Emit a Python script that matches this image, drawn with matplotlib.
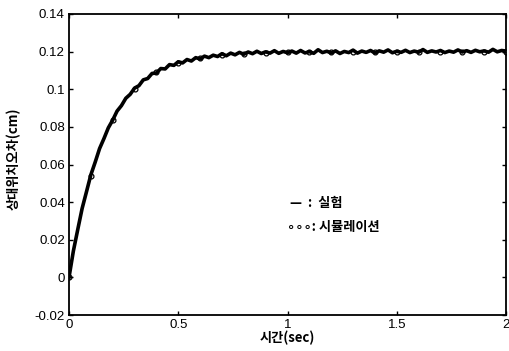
import numpy as np
import matplotlib
matplotlib.use("Agg")
import matplotlib.pyplot as plt

KR = ["Noto Sans CJK KR", "DejaVu Sans"]
NUM = ["Liberation Sans", "DejaVu Sans"]

# experiment (measured), sampled every 0.02 s
t_exp = np.linspace(0.0, 2.0, 101)
y_exp = [
    0.0000, 0.0140, 0.0254, 0.0366, 0.0455, 0.0545, 0.0613, 0.0685, 0.0738, 0.0795,
    0.0836, 0.0884, 0.0913, 0.0952, 0.0973, 0.1006, 0.1019, 0.1050, 0.1057, 0.1084,
    0.1086, 0.1110, 0.1108, 0.1131, 0.1127, 0.1146, 0.1140, 0.1158, 0.1150, 0.1168,
    0.1161, 0.1176, 0.1168, 0.1181, 0.1174, 0.1189, 0.1178, 0.1192, 0.1183, 0.1196,
    0.1186, 0.1198, 0.1189, 0.1202, 0.1190, 0.1199, 0.1192, 0.1205, 0.1191, 0.1201,
    0.1194, 0.1203, 0.1192, 0.1206, 0.1193, 0.1200, 0.1191, 0.1210, 0.1195, 0.1202,
    0.1193, 0.1204, 0.1190, 0.1201, 0.1195, 0.1208, 0.1192, 0.1203, 0.1196, 0.1206,
    0.1193, 0.1204, 0.1197, 0.1209, 0.1194, 0.1202, 0.1196, 0.1207, 0.1195, 0.1203,
    0.1197, 0.1211, 0.1196, 0.1204, 0.1198, 0.1206, 0.1195, 0.1203, 0.1197, 0.1209,
    0.1198, 0.1205, 0.1196, 0.1207, 0.1199, 0.1204, 0.1197, 0.1212, 0.1199, 0.1206,
    0.1203,
]

# simulation, every 0.1 s
t_sim = [0.0, 0.1, 0.2, 0.3, 0.4, 0.5, 0.6, 0.7, 0.8, 0.9, 1.0,
         1.1, 1.2, 1.3, 1.4, 1.5, 1.6, 1.7, 1.8, 1.9, 2.0]
y_sim = [0.0, 0.054, 0.0835, 0.1, 0.109, 0.114, 0.1167, 0.1182, 0.119, 0.1195, 0.1197,
         0.1198, 0.1199, 0.1199, 0.12, 0.12, 0.12, 0.12, 0.12, 0.12, 0.12]

xticks = [0, 0.5, 1, 1.5, 2]
xticklabels = ["0", "0.5", "1", "1.5", "2"]
yticks = [-0.02, 0, 0.02, 0.04, 0.06, 0.08, 0.1, 0.12, 0.14]
yticklabels = ["-0.02", "0", "0.02", "0.04", "0.06", "0.08", "0.1", "0.12", "0.14"]

fig = plt.figure(figsize=(5.09, 3.51), dpi=100)
fig.patch.set_facecolor("white")
ax = fig.add_axes([69 / 509, 36 / 351, 437 / 509, 301 / 351])

ax.plot(t_exp, y_exp, color="black", linewidth=2.6, solid_joinstyle="round")
ax.plot(t_sim, y_sim, linestyle="none", marker="o", markersize=3.5,
        markerfacecolor="none", markeredgecolor="black", markeredgewidth=0.9)

ax.set_xlim(0, 2)
ax.set_ylim(-0.02, 0.14)
ax.set_xticks(xticks)
ax.set_xticklabels(xticklabels, family=NUM, fontsize=9.5)
ax.set_yticks(yticks)
ax.set_yticklabels(yticklabels, family=NUM, fontsize=9.5)
ax.tick_params(direction="in", length=3, width=1, top=True, right=True,
               colors="black", pad=3)
for s in ax.spines.values():
    s.set_linewidth(1.3)
    s.set_color("black")

ax.set_xlabel("시간(sec)", family=KR, fontsize=9.5, fontweight="bold", labelpad=0)
ax.set_ylabel("상대위치오차(cm)", family=KR, fontsize=9.5, fontweight="bold")
ax.yaxis.set_label_coords(-0.11, 0.52)

ax.text(0.506, 0.372, "—  :  실험", transform=ax.transAxes, family=KR,
        fontsize=9.5, fontweight="bold", va="center", ha="left")
ax.text(0.499, 0.292, "∘∘∘: 시뮬레이션", transform=ax.transAxes, family=KR,
        fontsize=9.5, fontweight="bold", va="center", ha="left")

fig.savefig("out.png", dpi=100, facecolor="white")
